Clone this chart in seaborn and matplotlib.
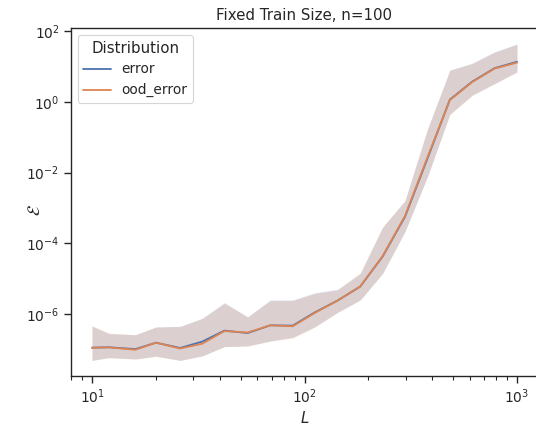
import numpy as np
import pandas as pd
import seaborn as sns
import matplotlib
matplotlib.use("Agg")
import matplotlib.pyplot as plt

# Training-set lengths L
L_values = [10, 12, 16, 20, 26, 33, 42, 54, 69, 88, 112, 143, 183, 233, 297, 379, 483, 615, 784, 1000]

# "error" series: central value, upper and lower band edges
error_mid = [1.12e-7, 1.15e-7, 1.02e-7, 1.55e-7, 1.10e-7, 1.66e-7, 3.4e-7, 2.9e-7, 4.8e-7, 4.7e-7,
             1.12e-6, 2.4e-6, 6.0e-6, 4.2e-5, 5.6e-4, 2.5e-2, 1.15, 3.7, 8.9, 13.5]
error_hi = [4.5e-7, 2.8e-7, 2.6e-7, 4.3e-7, 4.5e-7, 7.6e-7, 2.1e-6, 8.3e-7, 2.5e-6, 2.5e-6,
            4.0e-6, 5.0e-6, 1.4e-5, 2.8e-4, 1.6e-3, 0.166, 7.9, 12.3, 26.0, 43.0]
error_lo = [4.9e-8, 5.9e-8, 5.4e-8, 6.5e-8, 4.9e-8, 6.6e-8, 1.2e-7, 1.26e-7, 1.74e-7, 2.2e-7,
            4.4e-7, 1.12e-6, 2.5e-6, 1.4e-5, 2.1e-4, 7.6e-3, 0.45, 1.55, 3.3, 7.1]

# "ood_error" series
ood_mid = [1.12e-7, 1.14e-7, 0.98e-7, 1.55e-7, 1.06e-7, 1.45e-7, 3.3e-7, 3.0e-7, 4.8e-7, 4.5e-7,
           1.08e-6, 2.4e-6, 6.0e-6, 4.3e-5, 5.9e-4, 2.7e-2, 1.12, 3.6, 8.7, 12.8]
ood_hi = [4.7e-7, 2.9e-7, 2.6e-7, 4.3e-7, 4.4e-7, 7.4e-7, 2.0e-6, 8.3e-7, 2.4e-6, 2.4e-6,
          3.8e-6, 4.8e-6, 1.45e-5, 2.9e-4, 1.6e-3, 0.17, 7.7, 12.0, 25.0, 42.0]
ood_lo = [4.9e-8, 5.8e-8, 5.3e-8, 6.3e-8, 4.9e-8, 6.5e-8, 1.2e-7, 1.24e-7, 1.7e-7, 2.1e-7,
          4.3e-7, 1.1e-6, 2.5e-6, 1.4e-5, 2.2e-4, 7.8e-3, 0.43, 1.5, 3.2, 6.8]

rows = []
for name, mids, his, los in [("error", error_mid, error_hi, error_lo),
                             ("ood_error", ood_mid, ood_hi, ood_lo)]:
    for L, m, h, l in zip(L_values, mids, his, los):
        for v in (l, m, h):
            rows.append({"L": L, "value": v, "Distribution": name})
df = pd.DataFrame(rows)

sns.set_theme(style="ticks", context="paper")
plt.rcParams["font.family"] = ["DejaVu Sans"]
plt.rcParams.update({
    "xtick.labelsize": 9.9,
    "ytick.labelsize": 9.9,
    "axes.labelsize": 10.8,
    "axes.titlesize": 10.8,
    "legend.fontsize": 9.9,
    "legend.title_fontsize": 10.8,
    "lines.linewidth": 1.3,
})

fig = plt.figure(figsize=(5.36, 4.26), dpi=100)
ax_bottom = 376.3
ax_top = 28.2
ax_h = ax_bottom - ax_top
ax = fig.add_axes([70.75 / 536, 1 - ax_bottom / 426, 467.5 / 536, ax_h / 426])
ax.set_xscale("log")
ax.set_yscale("log")

sns.lineplot(data=df, x="L", y="value", hue="Distribution",
             estimator="median", errorbar=("pi", 100),
             err_kws={"alpha": 0.2, "linewidth": 0}, ax=ax)

ax.set_xlim(10 ** 0.9, 10 ** 3.1)
ax.set_ylim(10 ** -7.76, 10 ** 2.08)
ax.set_xlabel("$L$")
ax.set_ylabel(r"$\mathcal{E}$", fontsize=12)
ax.xaxis.set_label_coords(0.5, (ax_bottom - 410) / ax_h)
ax.yaxis.set_label_coords((44 - 70.75) / 467.5, 0.5 - (210 - 202) / ax_h)
ax.set_title("Fixed Train Size, n=100")
ax.legend(title="Distribution", loc="upper left")

fig.savefig("out.png", dpi=100)
